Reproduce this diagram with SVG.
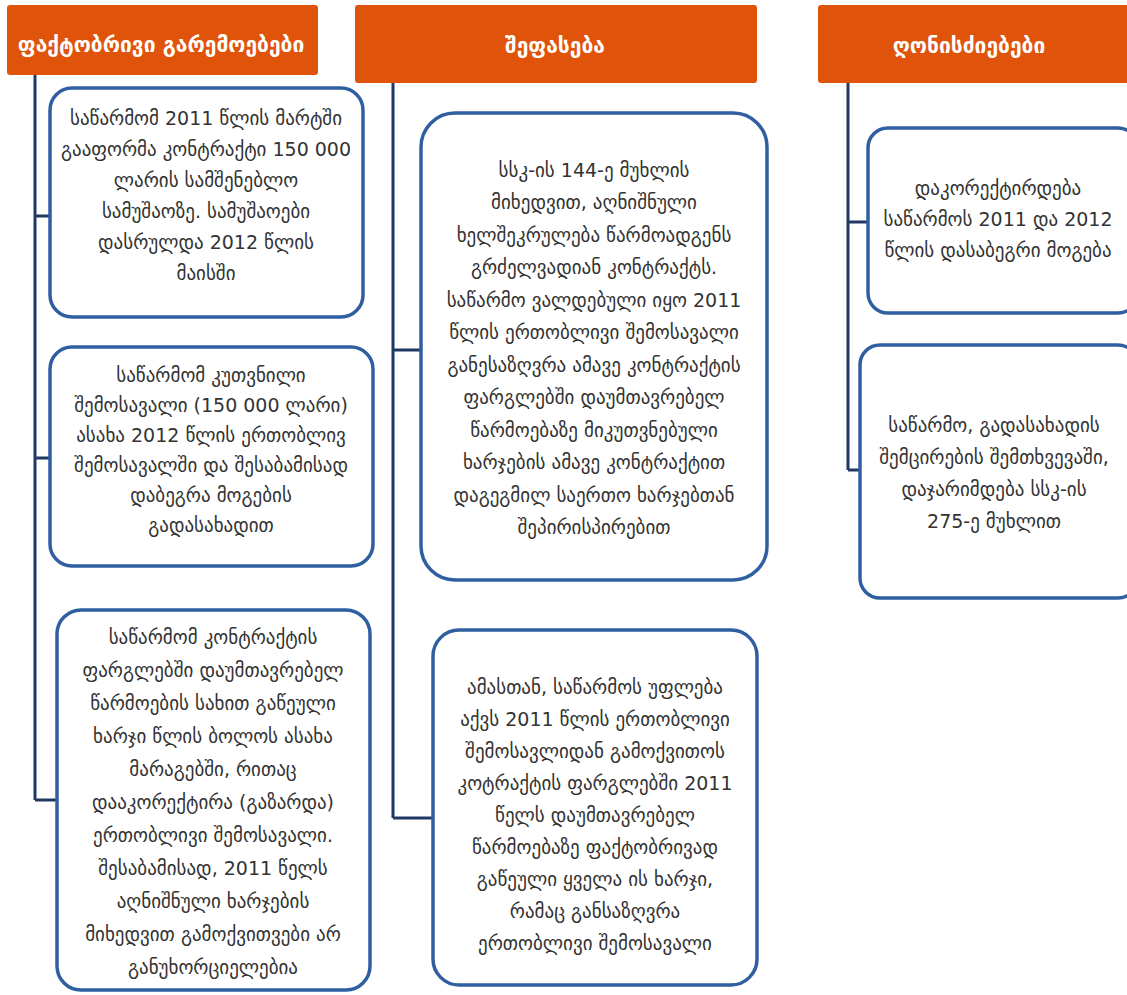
<svg xmlns="http://www.w3.org/2000/svg" width="1127" height="995" viewBox="0 0 1127 995">
<style>
.hdr{fill:#E0530B;}
.htxt{font-family:"DejaVu Sans",sans-serif;font-size:21px;font-weight:bold;fill:#FFFFFF;text-anchor:middle;}
.box{fill:#FFFFFF;stroke:#2F5FA0;stroke-width:3.5;}
.t{font-family:"DejaVu Sans",sans-serif;font-size:19px;fill:#333333;text-anchor:middle;}
.con{stroke:#1F3864;stroke-width:3;fill:none;}
</style>
<rect width="1127" height="995" fill="#FFFFFF"/>
<g id="connectors">
<path class="con" d="M35 75 V800 M35 216 H50 M35 458 H50 M35 800 H57"/>
<path class="con" d="M393 83 V818 M393 350 H421 M393 818 H433"/>
<path class="con" d="M848 83 V470 M848 222 H868 M848 470 H860"/>
</g>
<g id="h1"><rect class="hdr" x="7" y="5" width="311" height="70" rx="3"/><text class="htxt" x="161" y="52">ფაქტობრივი გარემოებები</text></g>
<g id="h2"><rect class="hdr" x="355" y="5" width="402" height="78" rx="3"/><text class="htxt" x="555" y="53">შეფასება</text></g>
<g id="h3"><rect class="hdr" x="818" y="5" width="315" height="78" rx="3"/><text class="htxt" x="969" y="53">ღონისძიებები</text></g>
<g id="b1"><rect class="box" x="50" y="88" width="313" height="229" rx="22"/>
<text class="t"><tspan x="206" y="125">საწარმომ 2011 წლის მარტში</tspan><tspan x="206" y="156">გააფორმა კონტრაქტი 150 000</tspan><tspan x="206" y="187">ლარის სამშენებლო</tspan><tspan x="206" y="218">სამუშაოზე. სამუშაოები</tspan><tspan x="206" y="249">დასრულდა 2012 წლის</tspan><tspan x="206" y="280">მაისში</tspan></text></g>
<g id="b2"><rect class="box" x="50" y="347" width="323" height="219" rx="22"/>
<text class="t"><tspan x="211" y="382">საწარმომ კუთვნილი</tspan><tspan x="211" y="412">შემოსავალი (150 000 ლარი)</tspan><tspan x="211" y="442">ასახა 2012 წლის ერთობლივ</tspan><tspan x="211" y="472">შემოსავალში და შესაბამისად</tspan><tspan x="211" y="502">დაბეგრა მოგების</tspan><tspan x="211" y="532">გადასახადით</tspan></text></g>
<g id="b3"><rect class="box" x="57" y="610" width="313" height="380" rx="24"/>
<text class="t"><tspan x="213" y="644">საწარმომ კონტრაქტის</tspan><tspan x="213" y="677">ფარგლებში დაუმთავრებელ</tspan><tspan x="213" y="710">წარმოების სახით გაწეული</tspan><tspan x="213" y="743">ხარჯი წლის ბოლოს ასახა</tspan><tspan x="213" y="776">მარაგებში, რითაც</tspan><tspan x="213" y="809">დააკორექტირა (გაზარდა)</tspan><tspan x="213" y="842">ერთობლივი შემოსავალი.</tspan><tspan x="213" y="875">შესაბამისად, 2011 წელს</tspan><tspan x="213" y="908">აღნიშნული ხარჯების</tspan><tspan x="213" y="941">მიხედვით გამოქვითვები არ</tspan><tspan x="213" y="974">განუხორციელებია</tspan></text></g>
<g id="b4"><rect class="box" x="421" y="113" width="346" height="467" rx="34"/>
<text class="t"><tspan x="594" y="177">სსკ-ის 144-ე მუხლის</tspan><tspan x="594" y="209">მიხედვით, აღნიშნული</tspan><tspan x="594" y="242">ხელშეკრულება წარმოადგენს</tspan><tspan x="594" y="274">გრძელვადიან კონტრაქტს.</tspan><tspan x="594" y="307">საწარმო ვალდებული იყო 2011</tspan><tspan x="594" y="339">წლის ერთობლივი შემოსავალი</tspan><tspan x="594" y="372">განესაზღვრა ამავე კონტრაქტის</tspan><tspan x="594" y="404">ფარგლებში დაუმთავრებელ</tspan><tspan x="594" y="437">წარმოებაზე მიკუთვნებული</tspan><tspan x="594" y="469">ხარჯების ამავე კონტრაქტით</tspan><tspan x="594" y="502">დაგეგმილ საერთო ხარჯებთან</tspan><tspan x="594" y="534">შეპირისპირებით</tspan></text></g>
<g id="b5"><rect class="box" x="433" y="630" width="324" height="355" rx="26"/>
<text class="t"><tspan x="595" y="694">ამასთან, საწარმოს უფლება</tspan><tspan x="595" y="726">აქვს 2011 წლის ერთობლივი</tspan><tspan x="595" y="758">შემოსავლიდან გამოქვითოს</tspan><tspan x="595" y="790">კოტრაქტის ფარგლებში 2011</tspan><tspan x="595" y="822">წელს დაუმთავრებელ</tspan><tspan x="595" y="854">წარმოებაზე ფაქტობრივად</tspan><tspan x="595" y="886">გაწეული ყველა ის ხარჯი,</tspan><tspan x="595" y="918">რამაც განსაზღვრა</tspan><tspan x="595" y="950">ერთობლივი შემოსავალი</tspan></text></g>
<g id="b6"><rect class="box" x="868" y="128" width="270" height="185" rx="20"/>
<text class="t"><tspan x="998" y="195">დაკორექტირდება</tspan><tspan x="998" y="226">საწარმოს 2011 და 2012</tspan><tspan x="998" y="257">წლის დასაბეგრი მოგება</tspan></text></g>
<g id="b7"><rect class="box" x="860" y="345" width="278" height="253" rx="20"/>
<text class="t"><tspan x="994" y="432">საწარმო, გადასახადის</tspan><tspan x="994" y="464">შემცირების შემთხვევაში,</tspan><tspan x="994" y="496">დაჯარიმდება სსკ-ის</tspan><tspan x="994" y="528">275-ე მუხლით</tspan></text></g>
</svg>
